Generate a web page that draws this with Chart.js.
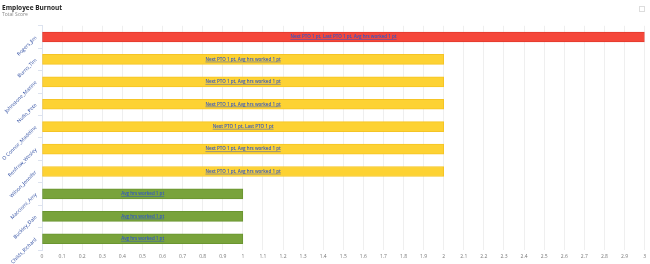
<!DOCTYPE html>
<html>
<head>
<meta charset="utf-8">
<script src="https://cdn.jsdelivr.net/npm/chart.js@4/dist/chart.umd.min.js"></script>
<style>
  html, body { margin: 0; padding: 0; background: #fff; }
  #wrap { width: 650px; height: 264px; position: relative; }
</style>
</head>
<body>
<div id="wrap"><canvas id="burnoutChart"></canvas></div>
<script>
var employees = ["Rogers_Jim", "Burns_Tim", "Johnstone_Maxine", "Nufio_Pete", "O Connor_Madeline",
                 "Renfrow_Wesley", "Wilson_Jennifer", "Macciomi_Amy", "Buckley_Dale", "Childs_Richard"];
var totalScore = [3, 2, 2, 2, 2, 2, 2, 1, 1, 1];
var scoreNotes = [
  "Next PTO 1 pt, Last PTO 1 pt, Avg hrs worked 1 pt",
  "Next PTO 1 pt, Avg hrs worked 1 pt",
  "Next PTO 1 pt, Avg hrs worked 1 pt",
  "Next PTO 1 pt, Avg hrs worked 1 pt",
  "Next PTO 1 pt, Last PTO 1 pt",
  "Next PTO 1 pt, Avg hrs worked 1 pt",
  "Next PTO 1 pt, Avg hrs worked 1 pt",
  "Avg hrs worked 1 pt",
  "Avg hrs worked 1 pt",
  "Avg hrs worked 1 pt"
];

function fillFor(v) {
  if (v >= 3) return '#f5473a';
  if (v >= 2) return '#fdd233';
  return '#79a33b';
}
function edgeFor(v) {
  if (v >= 3) return '#e23a2e';
  if (v >= 2) return '#f5c425';
  return '#6a9530';
}

// writes the note text in the middle of each bar
var barNotes = {
  id: 'barNotes',
  afterDatasetsDraw: function(chart) {
    var ctx = chart.ctx;
    var meta = chart.getDatasetMeta(0);
    ctx.save();
    ctx.font = '600 4.5px "Open Sans", sans-serif';
    ctx.fillStyle = '#2f55c8';
    ctx.strokeStyle = '#2f55c8';
    ctx.lineWidth = 0.5;
    ctx.textAlign = 'center';
    ctx.textBaseline = 'middle';
    meta.data.forEach(function(bar, i) {
      var cx = (bar.base + bar.x) / 2;
      var txt = scoreNotes[i];
      ctx.fillText(txt, cx, bar.y);
      var w = ctx.measureText(txt).width;
      ctx.beginPath();
      ctx.moveTo(cx - w / 2, bar.y + 2.5);
      ctx.lineTo(cx + w / 2, bar.y + 2.5);
      ctx.stroke();
    });
    // little expand icon top right
    ctx.strokeStyle = '#bbb';
    ctx.lineWidth = 1;
    ctx.setLineDash([1, 1]);
    ctx.strokeRect(639.5, 6.5, 5, 5);
    ctx.restore();
  }
};

var ctx = document.getElementById("burnoutChart");
var myChart = new Chart(ctx, {
  type: 'bar',
  data: {
    labels: employees,
    datasets: [{
      label: 'Total Score',
      data: totalScore,
      backgroundColor: totalScore.map(fillFor),
      borderColor: totalScore.map(edgeFor),
      borderWidth: 1,
      borderSkipped: false,
      barThickness: 10
    }]
  },
  options: {
    indexAxis: 'y',
    responsive: true,
    maintainAspectRatio: false,
    animation: false,
    layout: { padding: { top: 0, right: 2, bottom: 1, left: 2 } },
    plugins: {
      legend: { display: false },
      tooltip: { enabled: false },
      title: {
        display: true,
        text: 'Employee Burnout',
        align: 'start',
        color: '#222',
        font: { family: '"Open Sans", sans-serif', size: 6.5, weight: 'bold' },
        padding: { top: 4, bottom: 0 }
      },
      subtitle: {
        display: true,
        text: 'Total Score',
        align: 'start',
        color: '#888',
        font: { family: '"Open Sans", sans-serif', size: 5 },
        padding: { top: 0, bottom: 8 }
      }
    },
    scales: {
      x: {
        min: 0,
        max: 3,
        ticks: {
          stepSize: 0.1,
          autoSkip: false,
          maxRotation: 0,
          color: '#777',
          padding: 4,
          font: { family: '"Open Sans", sans-serif', size: 5 },
          callback: function(value) { return String(Math.round(value * 10) / 10); }
        },
        grid: { color: '#efefef', drawTicks: false },
        border: { display: false },
        afterFit: function(scale) { scale.height = 13; }
      },
      y: {
        ticks: {
          minRotation: 45,
          maxRotation: 45,
          color: '#2b4aa0',
          padding: 2,
          font: { family: '"Open Sans", sans-serif', size: 5 }
        },
        grid: { drawOnChartArea: false, color: '#dde3ef', tickLength: 4 },
        border: { color: '#dde3ef' },
        afterFit: function(scale) { scale.width = 40; }
      }
    }
  },
  plugins: [barNotes]
});
</script>
</body>
</html>
